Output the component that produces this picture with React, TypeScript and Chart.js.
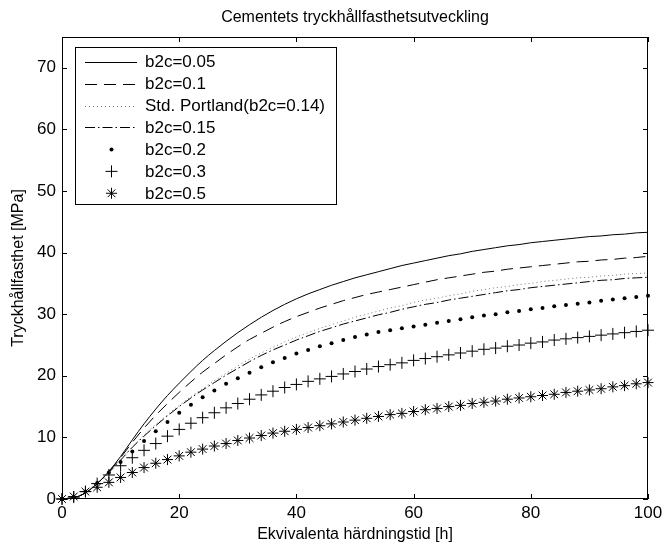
import { useEffect, useRef } from "react";
import { Chart, registerables } from "chart.js";

Chart.register(...registerables);

// Equivalent curing time [h]
const hours = [
  0, 2, 4, 6, 8, 10, 12, 14, 16, 18, 20, 22, 24, 26, 28, 30, 32, 34, 36, 38, 40,
  42, 44, 46, 48, 50, 52, 54, 56, 58, 60, 62, 64, 66, 68, 70, 72, 74, 76, 78, 80,
  82, 84, 86, 88, 90, 92, 94, 96, 98, 100,
];

// Compressive strength [MPa] for each b2c value
const b2c005 = [
  0, 0.2, 1.0, 2.5, 4.5, 6.9, 9.6, 12.2, 14.6, 16.8, 18.8, 20.7, 22.5, 24.1, 25.6, 27.0, 28.3, 29.5, 30.6, 31.6, 32.5,
  33.3, 34.0, 34.7, 35.3, 35.9, 36.4, 36.9, 37.4, 37.9, 38.3, 38.7, 39.1, 39.5, 39.8, 40.2, 40.5, 40.8, 41.1, 41.3, 41.6,
  41.8, 42.0, 42.2, 42.4, 42.6, 42.7, 42.9, 43.0, 43.2, 43.3,
];
const b2c010 = [
  0, 0.2, 1.0, 2.5, 4.4, 6.7, 9.2, 11.5, 13.6, 15.5, 17.3, 19.0, 20.6, 22.0, 23.4, 24.7, 25.9, 26.9, 27.9, 28.8, 29.6,
  30.3, 31.0, 31.6, 32.2, 32.7, 33.2, 33.6, 34.0, 34.4, 34.8, 35.2, 35.6, 35.9, 36.2, 36.5, 36.8, 37.0, 37.3, 37.5, 37.7,
  37.9, 38.1, 38.3, 38.5, 38.6, 38.8, 38.9, 39.1, 39.2, 39.4,
];
const stdPortland = [
  0, 0.2, 1.0, 2.5, 4.3, 6.4, 8.5, 10.4, 12.1, 13.7, 15.2, 16.6, 17.9, 19.2, 20.4, 21.6, 22.7, 23.7, 24.6, 25.5, 26.3,
  27.0, 27.7, 28.3, 28.9, 29.5, 30.0, 30.5, 31.0, 31.4, 31.9, 32.3, 32.6, 33.0, 33.3, 33.7, 34.0, 34.3, 34.5, 34.8, 35.0,
  35.3, 35.5, 35.7, 35.9, 36.0, 36.2, 36.3, 36.5, 36.6, 36.7,
];
const b2c015 = [
  0, 0.2, 1.0, 2.5, 4.3, 6.3, 8.4, 10.2, 11.9, 13.5, 15.0, 16.4, 17.7, 18.9, 20.1, 21.2, 22.3, 23.3, 24.2, 25.0, 25.8,
  26.5, 27.2, 27.8, 28.4, 28.9, 29.4, 29.9, 30.3, 30.8, 31.2, 31.6, 31.9, 32.3, 32.6, 32.9, 33.2, 33.5, 33.8, 34.0, 34.3,
  34.5, 34.7, 34.9, 35.1, 35.3, 35.5, 35.6, 35.8, 35.9, 36.0,
];
const b2c020 = [
  0, 0.3, 1.2, 2.6, 4.3, 6.0, 7.7, 9.4, 11.0, 12.5, 14.0, 15.3, 16.5, 17.6, 18.7, 19.6, 20.5, 21.4, 22.2, 22.9, 23.6,
  24.2, 24.8, 25.3, 25.8, 26.3, 26.7, 27.1, 27.4, 27.7, 28.0, 28.3, 28.6, 28.9, 29.2, 29.5, 29.8, 30.0, 30.3, 30.5, 30.8,
  31.0, 31.3, 31.5, 31.7, 31.9, 32.2, 32.4, 32.6, 32.8, 33.0,
];
const b2c030 = [
  0, 0.3, 1.2, 2.5, 3.9, 5.4, 6.7, 7.9, 9.0, 10.2, 11.3, 12.3, 13.2, 14.0, 14.8, 15.5, 16.2, 16.9, 17.5, 18.1, 18.6,
  19.1, 19.5, 19.9, 20.3, 20.7, 21.1, 21.5, 21.8, 22.1, 22.5, 22.8, 23.1, 23.4, 23.7, 24.0, 24.3, 24.5, 24.8, 25.0, 25.3,
  25.5, 25.8, 26.0, 26.2, 26.4, 26.6, 26.8, 27.0, 27.2, 27.4,
];
const b2c050 = [
  0, 0.4, 1.2, 1.9, 2.7, 3.5, 4.3, 5.1, 5.8, 6.4, 7.0, 7.6, 8.1, 8.6, 9.0, 9.5, 9.9, 10.3, 10.7, 11.0, 11.3,
  11.6, 11.9, 12.2, 12.5, 12.8, 13.1, 13.4, 13.7, 13.9, 14.2, 14.5, 14.7, 15.0, 15.2, 15.5, 15.7, 15.9, 16.2, 16.4, 16.6,
  16.8, 17.0, 17.3, 17.5, 17.7, 17.9, 18.2, 18.4, 18.7, 18.9,
];

const seriesLabels = [
  "b2c=0.05",
  "b2c=0.1",
  "Std. Portland(b2c=0.14)",
  "b2c=0.15",
  "b2c=0.2",
  "b2c=0.3",
  "b2c=0.5",
];

const xTicks = [0, 20, 40, 60, 80, 100];
const yTicks = [0, 10, 20, 30, 40, 50, 60, 70];

const titleText = "Cementets tryckhållfasthetsutveckling";
const xTitle = "Ekvivalenta härdningstid [h]";
const yTitle = "Tryckhållfasthet [MPa]";

const FONT_FAMILY = '"Liberation Sans", Arial, Helvetica, sans-serif';
const TICK_SIZE = 17;
const LEGEND_SIZE = 17;
const TITLE_SIZE = 16;
const LABEL_SIZE = 16;

type Style = {
  dash?: number[];
  color: string;
  marker?: "dot" | "plus" | "star";
};

const styles: Style[] = [
  { color: "#000" },
  { color: "#000", dash: [12, 7] },
  { color: "#777", dash: [1, 3] },
  { color: "#000", dash: [10, 3, 1.5, 3] },
  { color: "#000", marker: "dot" },
  { color: "#000", marker: "plus" },
  { color: "#000", marker: "star" },
];

const allSeries = [b2c005, b2c010, stdPortland, b2c015, b2c020, b2c030, b2c050];

const DOT_R = 2;
const PLUS_R = 6;
const STAR_R = 5.5;

function drawMarker(ctx: CanvasRenderingContext2D, kind: string, x: number, y: number) {
  ctx.save();
  ctx.strokeStyle = "#000";
  ctx.fillStyle = "#000";
  ctx.lineWidth = 1;
  ctx.setLineDash([]);
  if (kind === "dot") {
    ctx.beginPath();
    ctx.arc(x, y, DOT_R, 0, Math.PI * 2);
    ctx.fill();
  } else if (kind === "plus") {
    const r = PLUS_R;
    ctx.beginPath();
    ctx.moveTo(x - r, y);
    ctx.lineTo(x + r, y);
    ctx.moveTo(x, y - r);
    ctx.lineTo(x, y + r);
    ctx.stroke();
  } else {
    const r = STAR_R;
    const d = r * Math.SQRT1_2;
    ctx.beginPath();
    ctx.moveTo(x - r, y);
    ctx.lineTo(x + r, y);
    ctx.moveTo(x, y - r);
    ctx.lineTo(x, y + r);
    ctx.moveTo(x - d, y - d);
    ctx.lineTo(x + d, y + d);
    ctx.moveTo(x - d, y + d);
    ctx.lineTo(x + d, y - d);
    ctx.stroke();
  }
  ctx.restore();
}

// Box frame with inward ticks on all four sides, title, axis titles and legend
const decorations = {
  id: "decorations",
  afterDraw(chart: any) {
    const { ctx, chartArea } = chart;
    const { left, right, top, bottom } = chartArea;
    const xs = chart.scales.x;
    const ys = chart.scales.y;
    ctx.save();
    ctx.strokeStyle = "#000";
    ctx.lineWidth = 1;
    ctx.setLineDash([]);

    // frame
    ctx.strokeRect(Math.round(left) + 0.5, Math.round(top) + 0.5, Math.round(right - left) - 1, Math.round(bottom - top) - 1);

    // inward ticks
    const tl = 5;
    ctx.beginPath();
    xTicks.forEach((v) => {
      const px = Math.round(xs.getPixelForValue(v)) + 0.5;
      ctx.moveTo(px, bottom);
      ctx.lineTo(px, bottom - tl);
      ctx.moveTo(px, top);
      ctx.lineTo(px, top + tl);
    });
    yTicks.forEach((v) => {
      const py = Math.round(ys.getPixelForValue(v)) + 0.5;
      ctx.moveTo(left, py);
      ctx.lineTo(left + tl, py);
      ctx.moveTo(right, py);
      ctx.lineTo(right - tl, py);
    });
    ctx.stroke();

    // titles
    ctx.fillStyle = "#000";
    ctx.textAlign = "center";
    ctx.textBaseline = "middle";
    const cx = (left + right) / 2;
    ctx.font = `${TITLE_SIZE}px ${FONT_FAMILY}`;
    ctx.fillText(titleText, cx, 18);
    ctx.font = `${LABEL_SIZE}px ${FONT_FAMILY}`;
    ctx.fillText(xTitle, cx, 535);
    ctx.save();
    ctx.translate(19, (top + bottom) / 2);
    ctx.rotate(-Math.PI / 2);
    ctx.fillText(yTitle, 0, 0);
    ctx.restore();

    // legend
    const lx = 75.5;
    const ly = 47.5;
    const lw = 261;
    const lh = 157;
    ctx.fillStyle = "#fff";
    ctx.fillRect(lx, ly, lw, lh);
    ctx.strokeRect(lx, ly, lw, lh);
    ctx.font = `${LEGEND_SIZE}px ${FONT_FAMILY}`;
    ctx.textAlign = "left";
    ctx.textBaseline = "middle";
    seriesLabels.forEach((label, i) => {
      const y = 61.7 + i * 21.93;
      const st = styles[i];
      if (st.marker) {
        drawMarker(ctx, st.marker, 111.5, y);
      } else {
        ctx.save();
        ctx.strokeStyle = st.color;
        ctx.setLineDash(st.dash || []);
        ctx.beginPath();
        ctx.moveTo(85, Math.round(y) + 0.5);
        ctx.lineTo(137, Math.round(y) + 0.5);
        ctx.stroke();
        ctx.restore();
      }
      ctx.fillStyle = "#000";
      ctx.fillText(label, 145, y + 1);
    });
    ctx.restore();
  },
};

export default function App() {
  const canvasRef = useRef<HTMLCanvasElement>(null);

  useEffect(() => {
    document.body.style.margin = "0";
    const canvas = canvasRef.current;
    if (!canvas) return;

    const datasets = allSeries.map((values, i) => {
      const st = styles[i];
      const data = hours.map((h, k) => ({ x: h, y: values[k] }));
      if (st.marker) {
        const pointStyle = st.marker === "dot" ? "circle" : st.marker === "plus" ? "cross" : "star";
        return {
          label: seriesLabels[i],
          data,
          showLine: false,
          clip: false,
          pointStyle,
          pointRadius: st.marker === "dot" ? DOT_R : st.marker === "plus" ? PLUS_R : STAR_R,
          pointBorderWidth: st.marker === "dot" ? 0 : 1,
          pointBackgroundColor: "#000",
          pointBorderColor: "#000",
          borderColor: "#000",
          backgroundColor: "#000",
        };
      }
      return {
        label: seriesLabels[i],
        data,
        clip: false,
        borderColor: st.color,
        borderWidth: 1,
        borderDash: st.dash || [],
        pointRadius: 0,
        cubicInterpolationMode: "monotone",
        fill: false,
      };
    });

    const tickFont = { family: FONT_FAMILY, size: TICK_SIZE };

    const chart = new Chart(canvas, {
      type: "line",
      data: { datasets: datasets as any },
      options: {
        responsive: false,
        animation: false,
        events: [],
        layout: { padding: { top: 37, right: 16, left: 0, bottom: 0 } },
        plugins: {
          legend: { display: false },
          title: { display: false },
          tooltip: { enabled: false },
        },
        scales: {
          x: {
            type: "linear",
            min: 0,
            max: 100,
            afterBuildTicks: (s: any) => {
              s.ticks = xTicks.map((v) => ({ value: v }));
            },
            afterFit: (s: any) => {
              s.height = 49;
              s.paddingLeft = 0;
              s.paddingRight = 0;
            },
            grid: { display: false, drawTicks: false },
            border: { display: false },
            ticks: { font: tickFont, color: "#000", padding: 4, maxRotation: 0, autoSkip: false },
          },
          y: {
            type: "linear",
            min: 0,
            max: 75,
            afterBuildTicks: (s: any) => {
              s.ticks = yTicks.map((v) => ({ value: v }));
            },
            afterFit: (s: any) => {
              s.width = 62;
              s.paddingTop = 0;
              s.paddingBottom = 0;
            },
            grid: { display: false, drawTicks: false },
            border: { display: false },
            ticks: { font: tickFont, color: "#000", padding: 6 },
          },
        },
      },
      plugins: [decorations],
    });

    return () => chart.destroy();
  }, []);

  return <canvas ref={canvasRef} width={664} height={548} style={{ display: "block" }} />;
}
